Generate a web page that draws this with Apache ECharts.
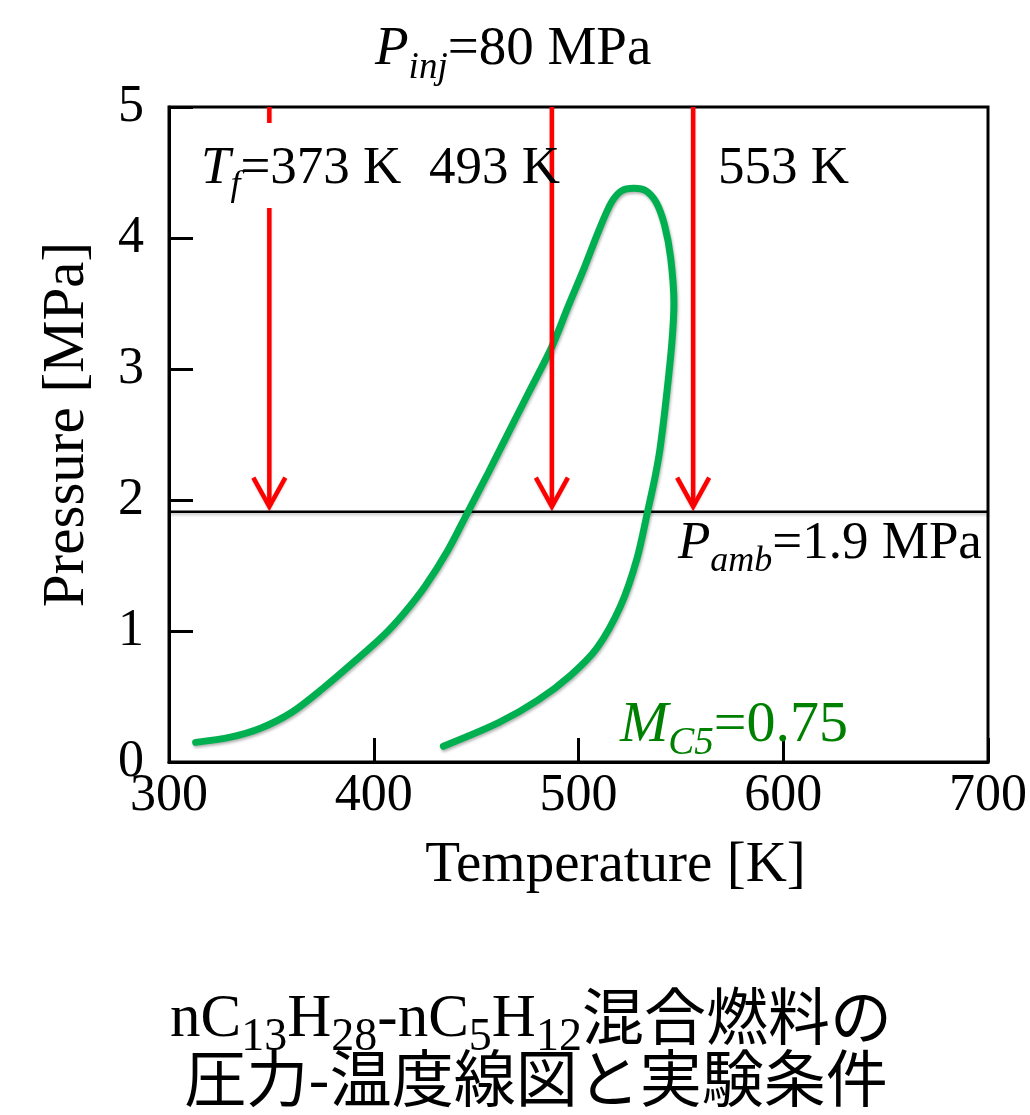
<!DOCTYPE html>
<html><head><meta charset="utf-8">
<script src="https://cdn.jsdelivr.net/npm/echarts@6/dist/echarts.min.js"></script>
<style>html,body{margin:0;padding:0;background:#fff}#c{width:1030px;height:1115px}</style>
</head><body><div id="c"></div>
<script>
// ---- data ----
const curveT = [313, 330, 345, 360, 375, 390, 405, 415, 425, 436, 446, 456, 465, 476, 487, 495, 503, 510, 516, 521, 527, 533, 538, 542, 545, 546.6, 545.6, 542.8, 539.8, 537.2, 534, 528.5, 520.5, 509, 496, 480, 461, 434];
const curveP = [0.15, 0.19, 0.26, 0.38, 0.56, 0.76, 0.97, 1.14, 1.34, 1.61, 1.91, 2.21, 2.49, 2.83, 3.17, 3.48, 3.78, 4.06, 4.27, 4.36, 4.38, 4.36, 4.27, 4.10, 3.85, 3.50, 3.20, 2.77, 2.39, 2.16, 1.93, 1.55, 1.19, 0.87, 0.66, 0.47, 0.30, 0.12];
const arrowT = [349, 487, 556];
const arrowTopP = 5;
const arrowTipP = 1.95;
const ambientP = 1.91;
const xRange = [300, 700], xStep = 100;
const yRange = [0, 5], yStep = 1;
const xName = 'Temperature [K]';
const yName = 'Pressure [MPa]';

const SERIF = '"Liberation Serif","Times New Roman",serif';
const CJK = '"Noto Sans CJK JP","Noto Sans CJK SC",sans-serif';

const meas = document.createElement('canvas').getContext('2d');
function fontStr(s) { return (s.it ? 'italic ' : '') + s.size + 'px ' + (s.fam || SERIF); }
function textRun(x, baseline, segs, color, align, z) {
  const widths = segs.map(s => { meas.font = fontStr(s); return meas.measureText(s.t).width; });
  const total = widths.reduce((a, b) => a + b, 0);
  let cx = align === 'center' ? x - total / 2 : x;
  const els = [];
  segs.forEach((s, i) => {
    const k = s.fam === CJK ? 0.40 : 0.3375;
    els.push({
      type: 'text', z: z || 100, x: cx, y: baseline + (s.dy || 0) - k * s.size,
      style: { text: s.t, font: fontStr(s), fill: color, align: 'left', verticalAlign: 'middle' }
    });
    cx += widths[i];
  });
  return els;
}

const A = 53, S = 36;
let graphics = [];
graphics.push({ type: 'rect', z: 99, shape: { x: 255, y: 123, width: 30, height: 85 }, style: { fill: '#fff' } });
graphics = graphics.concat(
  textRun(375, 68, [{ t: 'P', it: 1, size: 55 }, { t: 'inj', it: 1, size: 37, dy: 13 }, { t: '=80 MPa', size: 55 }], '#000'),
  textRun(201, 187, [{ t: 'T', it: 1, size: A }, { t: 'f', it: 1, size: S, dy: 11 }, { t: '=373 K', size: A }], '#000'),
  textRun(429, 187, [{ t: '493 K', size: A }], '#000'),
  textRun(718, 187, [{ t: '553 K', size: A }], '#000'),
  textRun(678, 562, [{ t: 'P', it: 1, size: A }, { t: 'amb', it: 1, size: S, dy: 12 }, { t: '=1.9 MPa', size: A }], '#000'),
  textRun(620, 745, [{ t: 'M', it: 1, size: 58 }, { t: 'C5', it: 1, size: 39, dy: 12 }, { t: '=0.75', size: 58 }], '#008000'),
  textRun(531, 1041, [
    { t: 'nC', size: 61 }, { t: '13', size: 46, dy: 12 }, { t: 'H', size: 61 }, { t: '28', size: 46, dy: 12 },
    { t: '-nC', size: 61 }, { t: '5', size: 46, dy: 12 }, { t: 'H', size: 61 }, { t: '12', size: 46, dy: 12 },
    { t: '混合燃料の', size: 62, fam: CJK }], '#000', 'center'),
  textRun(536, 1103, [{ t: '圧力-温度線図と実験条件', size: 62, fam: CJK }], '#000', 'center')
);

const chart = echarts.init(document.getElementById('c'), null, { renderer: 'canvas' });
chart.setOption({
  animation: false,
  backgroundColor: '#fff',
  grid: { left: 169, right: 37, top: 107, bottom: 353, show: true, borderColor: '#000', borderWidth: 3, backgroundColor: 'transparent' },
  xAxis: {
    type: 'value', min: xRange[0], max: xRange[1], interval: xStep,
    name: xName, nameLocation: 'middle', nameGap: 76,
    nameTextStyle: { fontFamily: SERIF, fontSize: 57, color: '#000', padding: [0, 0, 0, 74] },
    axisLine: { show: true, lineStyle: { color: '#000', width: 3 } },
    axisTick: { show: true, inside: true, length: 24, lineStyle: { color: '#000', width: 3 } },
    axisLabel: { fontFamily: SERIF, fontSize: 52, color: '#000', margin: 8 },
    splitLine: { show: false }
  },
  yAxis: {
    type: 'value', min: yRange[0], max: yRange[1], interval: yStep,
    name: yName, nameLocation: 'middle', nameGap: 72,
    nameTextStyle: { fontFamily: SERIF, fontSize: 59, color: '#000', padding: [0, 0, 0, 20] },
    axisLine: { show: true, lineStyle: { color: '#000', width: 3 } },
    axisTick: { show: true, inside: true, length: 24, lineStyle: { color: '#000', width: 3 } },
    axisLabel: { fontFamily: SERIF, fontSize: 52, color: '#000', margin: 25 },
    splitLine: { show: false }
  },
  series: [
    {
      type: 'line', name: 'ambient', symbol: 'none', z: 3,
      data: [[xRange[0], ambientP], [xRange[1], ambientP]],
      lineStyle: { color: '#000', width: 2.5, shadowColor: 'rgba(0,0,0,0.25)', shadowBlur: 3, shadowOffsetY: 2 }
    },
    {
      type: 'line', name: 'envelope', symbol: 'none', smooth: 0.3, z: 4,
      data: curveT.map((t, i) => [t, curveP[i]]),
      lineStyle: { color: '#00B050', width: 7, cap: 'round', shadowColor: 'rgba(0,0,0,0.3)', shadowBlur: 3, shadowOffsetX: 1, shadowOffsetY: 2 }
    },
    {
      type: 'custom', name: 'arrows', z: 5, clip: false,
      encode: { x: 0, y: [1, 2] },
      data: arrowT.map(t => [t, arrowTopP, arrowTipP]),
      renderItem: function (params, api) {
        const top = api.coord([api.value(0), api.value(1)]);
        const tip = api.coord([api.value(0), api.value(2)]);
        const st = { stroke: '#FF0000', lineWidth: 4.5, fill: null, shadowColor: 'rgba(0,0,0,0.2)', shadowBlur: 2, shadowOffsetY: 1 };
        return {
          type: 'group', children: [
            { type: 'line', shape: { x1: top[0], y1: top[1], x2: tip[0], y2: tip[1] - 2 }, style: st },
            { type: 'polyline', shape: { points: [[tip[0] - 16, tip[1] - 29], [tip[0], tip[1]], [tip[0] + 16, tip[1] - 29]] }, style: st }
          ]
        };
      }
    }
  ],
  graphic: { elements: graphics }
});
</script></body></html>
